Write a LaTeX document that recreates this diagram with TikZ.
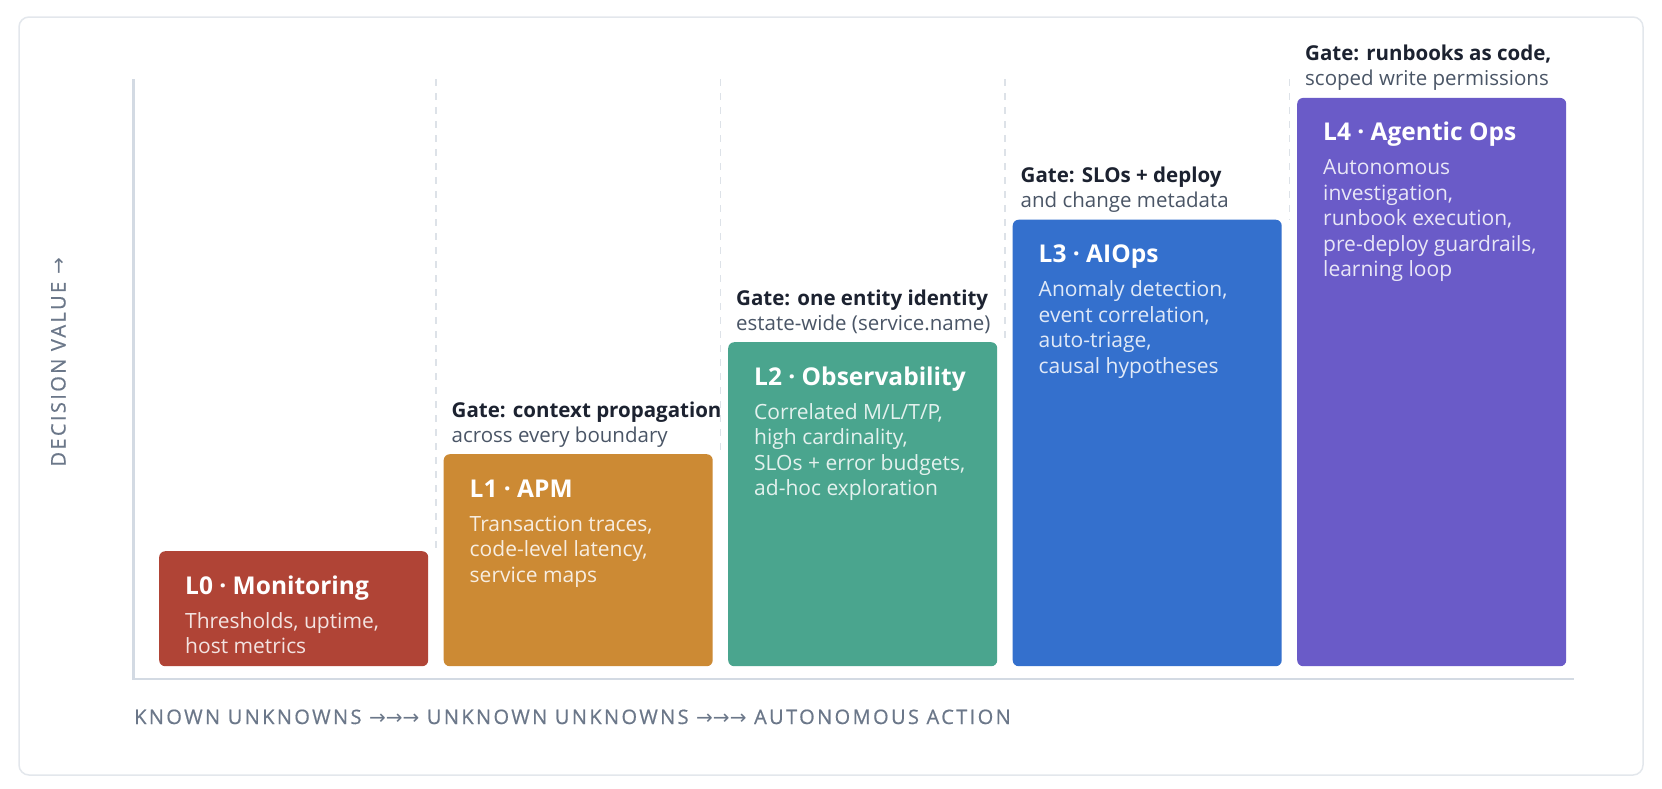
\documentclass[tikz,border=0pt]{standalone}
\usepackage{fontspec}
\setmainfont{Open Sans}
\newfontfamily\arrowfont{DejaVu Sans}
\newfontfamily\capsfont[LetterSpace=12, FakeBold=0.6]{Open Sans}
\usetikzlibrary{positioning}

\definecolor{monred}{HTML}{B04436}
\definecolor{apmorange}{HTML}{CC8A34}
\definecolor{obsteal}{HTML}{4AA58E}
\definecolor{aiblue}{HTML}{3470CD}
\definecolor{agentpurple}{HTML}{6A5BC8}
\definecolor{gatedark}{HTML}{1C2230}
\definecolor{gategrey}{HTML}{4A5566}
\definecolor{axisgrey}{HTML}{6B7789}
\definecolor{axisline}{HTML}{D3DAE3}
\definecolor{framegrey}{HTML}{E3E7EC}
\definecolor{guidegrey}{HTML}{DDE2E8}

\begin{document}
\begin{tikzpicture}[x=1pt, y=-1pt,
    level/.style={rounded corners=6pt, inner sep=0pt, minimum width=269pt, anchor=north west},
    title/.style={text=white, font=\fontsize{24.5}{30}\selectfont\bfseries, inner sep=0pt, anchor=base west},
    desc/.style={text=white, text opacity=0.85, font=\fontsize{21}{25.5}\selectfont, align=left, inner sep=0pt, anchor=base west},
    gate/.style={text=gatedark, font=\fontsize{20.5}{25}\selectfont, align=left, inner sep=0pt, anchor=base west},
    axislabel/.style={text=axisgrey, font=\fontsize{20}{24}\selectfont\capsfont, inner sep=0pt},
    guide/.style={guidegrey, line width=1.5pt, dash pattern=on 7pt off 7pt}]

    \useasboundingbox (0,0) rectangle (1662,788);
    \draw[framegrey, line width=1.5pt, rounded corners=10pt, fill=white] (19,17) rectangle (1643,775);

    % guides between the levels
    \draw[guide] (436,79) -- (436,551);
    \draw[guide] (720.5,79) -- (720.5,454);
    \draw[guide] (1005,79) -- (1005,342);
    \draw[guide] (1289.5,79) -- (1289.5,219.5);

    \draw[axisline, line width=2.5pt] (133.5,79) -- (133.5,679) -- (1574,679);

    % L0 (multi-line nodes sit on their last baseline)
    \node[level, fill=monred, minimum height=115pt] (l0) at (159,551) {};
    \node[title] (l0t) at ([shift={(26,43)}]l0.north west) {L0 · Monitoring};
    \node[desc] (l0d) at ([shift={(26,102.5)}]l0.north west) {Thresholds, uptime,\\host metrics};

    % L1
    \node[level, fill=apmorange, minimum height=212pt] (l1) at (443.5,454) {};
    \node[title] (l1t) at ([shift={(26,43)}]l1.north west) {L1 · APM};
    \node[desc] (l1d) at ([shift={(26,128)}]l1.north west) {Transaction traces,\\code-level latency,\\service maps};
    \node[gate] (g1) at ([shift={(8,-12)}]l1.north west) {\textbf{Gate: context propagation}\\\textcolor{gategrey}{across every boundary}};

    % L2
    \node[level, fill=obsteal, minimum height=324pt] (l2) at (728,342) {};
    \node[title] (l2t) at ([shift={(26,43)}]l2.north west) {L2 · Observability};
    \node[desc] (l2d) at ([shift={(26,153.5)}]l2.north west) {Correlated M/L/T/P,\\high cardinality,\\SLOs + error budgets,\\ad-hoc exploration};
    \node[gate] (g2) at ([shift={(8,-12)}]l2.north west) {\textbf{Gate: one entity identity}\\\textcolor{gategrey}{estate-wide (service.name)}};

    % L3
    \node[level, fill=aiblue, minimum height=446.5pt] (l3) at (1012.5,219.5) {};
    \node[title] (l3t) at ([shift={(26,43)}]l3.north west) {L3 · AIOps};
    \node[desc] (l3d) at ([shift={(26,153.5)}]l3.north west) {Anomaly detection,\\event correlation,\\auto-triage,\\causal hypotheses};
    \node[gate] (g3) at ([shift={(8,-12)}]l3.north west) {\textbf{Gate: SLOs + deploy}\\\textcolor{gategrey}{and change metadata}};

    % L4
    \node[level, fill=agentpurple, minimum height=568.3pt] (l4) at (1297,97.7) {};
    \node[title] (l4t) at ([shift={(26,43)}]l4.north west) {L4 · Agentic Ops};
    \node[desc] (l4d) at ([shift={(26,179)}]l4.north west) {Autonomous\\investigation,\\runbook execution,\\pre-deploy guardrails,\\learning loop};
    \node[gate] (g4) at ([shift={(8,-12)}]l4.north west) {\textbf{Gate: runbooks as code,}\\\textcolor{gategrey}{scoped write permissions}};

    % axis titles
    \node[axislabel, rotate=90, anchor=base] (yaxis) at (65.5,362) {DECISION VALUE {\arrowfont →}};
    \node[axislabel, anchor=base west] (xaxis) at (134,724) {KNOWN UNKNOWNS {\arrowfont →→→} UNKNOWN UNKNOWNS {\arrowfont →→→} AUTONOMOUS ACTION};

\end{tikzpicture}
\end{document}
